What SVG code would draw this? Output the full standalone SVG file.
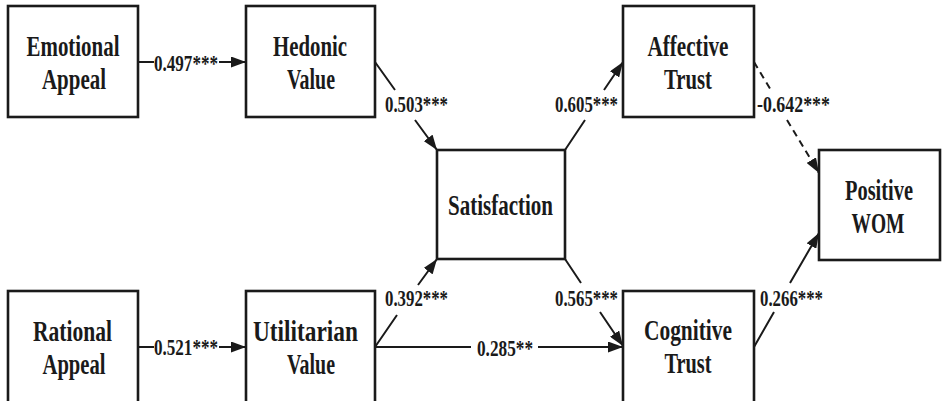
<svg xmlns="http://www.w3.org/2000/svg" width="943" height="401" viewBox="0 0 943 401">
  <style>
    .box { fill: #ffffff; stroke: #1a1a1a; stroke-width: 2.6; }
    .node { font-family: "Liberation Serif", "Times New Roman", serif; font-weight: bold; font-size: 30px; fill: #1a1a1a; text-anchor: middle; }
    .lbl { font-family: "Liberation Serif", "Times New Roman", serif; font-weight: bold; font-size: 23px; fill: #1a1a1a; text-anchor: middle; }
    .edge { fill: none; stroke: #1a1a1a; stroke-width: 2; }
    .dash { stroke-dasharray: 7 5; }
  </style>
  <defs>
    <marker id="arrow" viewBox="0 0 15 11" refX="15" refY="5.5" markerWidth="15" markerHeight="11" markerUnits="userSpaceOnUse" orient="auto">
      <path d="M0,0 L15,5.5 L0,11 Z" fill="#1a1a1a"/>
    </marker>
  </defs>
  <rect width="943" height="401" fill="#ffffff"/>

  <g id="connectors">
    <path class="edge" d="M138,62 L154,62 M219,62 L246,62" marker-end="url(#arrow)"/>
    <path class="edge" d="M138,347 L154,347 M219,347 L246,347" marker-end="url(#arrow)"/>
    <path class="edge" d="M375,62 L395,90 M415,120 L437,150" marker-end="url(#arrow)"/>
    <path class="edge" d="M565,150 L585,120 M604,90 L623,62" marker-end="url(#arrow)"/>
    <path class="edge dash" d="M754,62 L772,92 M787,120 L819,173" marker-end="url(#arrow)"/>
    <path class="edge" d="M375,347 L397,315 M418,285 L437,259" marker-end="url(#arrow)"/>
    <path class="edge" d="M565,259 L581,283 M600,312 L623,346" marker-end="url(#arrow)"/>
    <path class="edge" d="M754,347 L774,312 M790,283 L819,233" marker-end="url(#arrow)"/>
    <path class="edge" d="M375,347 L471,347 M538,347 L623,347" marker-end="url(#arrow)"/>

    <text class="lbl" x="186" y="71" textLength="64" lengthAdjust="spacingAndGlyphs">0.497***</text>
    <text class="lbl" x="186" y="355" textLength="64" lengthAdjust="spacingAndGlyphs">0.521***</text>
    <text class="lbl" x="416.5" y="112" textLength="63" lengthAdjust="spacingAndGlyphs">0.503***</text>
    <text class="lbl" x="586.5" y="112" textLength="63" lengthAdjust="spacingAndGlyphs">0.605***</text>
    <text class="lbl" x="793.5" y="112" textLength="73" lengthAdjust="spacingAndGlyphs">-0.642***</text>
    <text class="lbl" x="416.5" y="306" textLength="63" lengthAdjust="spacingAndGlyphs">0.392***</text>
    <text class="lbl" x="586.5" y="306" textLength="63" lengthAdjust="spacingAndGlyphs">0.565***</text>
    <text class="lbl" x="791.5" y="306" textLength="63" lengthAdjust="spacingAndGlyphs">0.266***</text>
    <text class="lbl" x="505" y="356" textLength="56" lengthAdjust="spacingAndGlyphs">0.285**</text>
  </g>

  <g id="emotional-appeal">
    <rect class="box" x="8" y="6" width="130" height="111"/>
    <text class="node" x="73" y="56" textLength="93" lengthAdjust="spacingAndGlyphs">Emotional</text>
    <text class="node" x="74" y="89" textLength="64" lengthAdjust="spacingAndGlyphs">Appeal</text>
  </g>
  <g id="hedonic-value">
    <rect class="box" x="246" y="6" width="129" height="111"/>
    <text class="node" x="310" y="56" textLength="74" lengthAdjust="spacingAndGlyphs">Hedonic</text>
    <text class="node" x="311" y="89" textLength="48" lengthAdjust="spacingAndGlyphs">Value</text>
  </g>
  <g id="satisfaction">
    <rect class="box" x="437" y="150" width="128" height="109"/>
    <text class="node" x="500.5" y="215" textLength="105" lengthAdjust="spacingAndGlyphs">Satisfaction</text>
  </g>
  <g id="affective-trust">
    <rect class="box" x="623" y="6" width="131" height="111"/>
    <text class="node" x="688" y="56" textLength="81" lengthAdjust="spacingAndGlyphs">Affective</text>
    <text class="node" x="688" y="89" textLength="48" lengthAdjust="spacingAndGlyphs">Trust</text>
  </g>
  <g id="positive-wom">
    <rect class="box" x="819" y="150" width="121" height="110"/>
    <text class="node" x="879" y="200" textLength="68" lengthAdjust="spacingAndGlyphs">Positive</text>
    <text class="node" x="878" y="233" textLength="53" lengthAdjust="spacingAndGlyphs">WOM</text>
  </g>
  <g id="rational-appeal">
    <rect class="box" x="8" y="291" width="130" height="120"/>
    <text class="node" x="72.5" y="341" textLength="79" lengthAdjust="spacingAndGlyphs">Rational</text>
    <text class="node" x="74" y="374" textLength="63" lengthAdjust="spacingAndGlyphs">Appeal</text>
  </g>
  <g id="utilitarian-value">
    <rect class="box" x="246" y="291" width="129" height="120"/>
    <text class="node" x="305.5" y="341" textLength="105" lengthAdjust="spacingAndGlyphs">Utilitarian</text>
    <text class="node" x="311" y="374" textLength="48" lengthAdjust="spacingAndGlyphs">Value</text>
  </g>
  <g id="cognitive-trust">
    <rect class="box" x="623" y="291" width="131" height="120"/>
    <text class="node" x="688" y="340" textLength="88" lengthAdjust="spacingAndGlyphs">Cognitive</text>
    <text class="node" x="688" y="373" textLength="47" lengthAdjust="spacingAndGlyphs">Trust</text>
  </g>
</svg>
